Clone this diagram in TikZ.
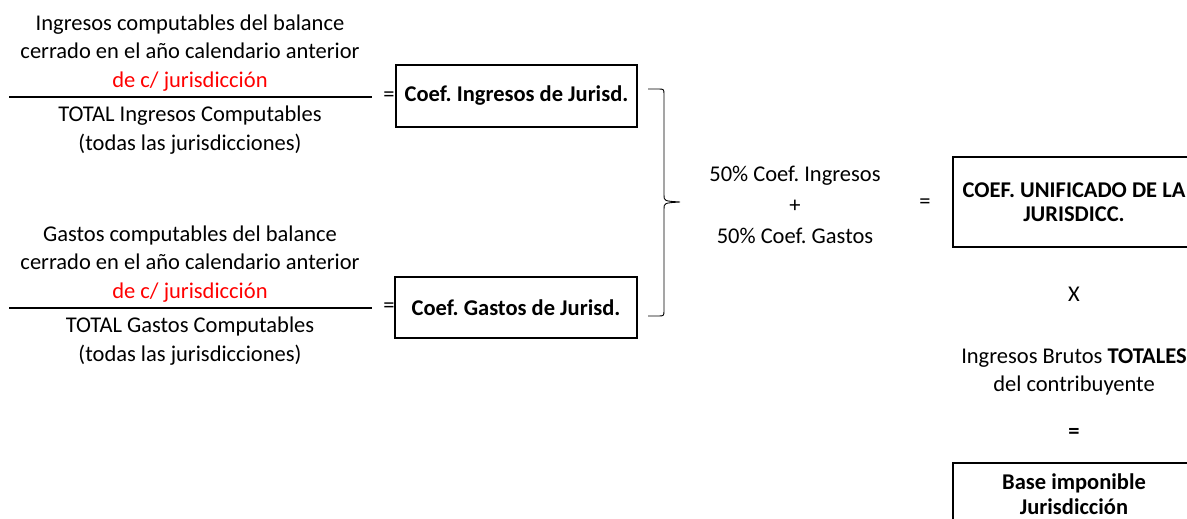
\documentclass[tikz,border=0pt]{standalone}
\usepackage{fontspec}
\setmainfont{Carlito}
\begin{document}
\frenchspacing
\begin{tikzpicture}[x=1pt,y=-1pt,
  txt/.style={inner sep=0pt,align=center,font=\fontsize{22.5}{28.5}\selectfont},
  coefbox/.style={draw,line width=1.5pt,inner sep=0pt,align=center,font=\fontsize{22.5}{24}\selectfont\bfseries},
  rule/.style={line width=1.3pt},
  brace/.style={line width=0.9pt}]
\useasboundingbox (0,0) rectangle (1187,519);
\clip (0,0) rectangle (1187,519);
% fraction 1
\node[txt] (n1) at (190,53) {Ingresos computables del balance\\cerrado en el año calendario anterior\\\textcolor{red}{de c/ jurisdicción}};
\node[txt] (d1) at (190,130) {TOTAL Ingresos Computables\\(todas las jurisdicciones)};
\coordinate (l1a) at (9,97);
\coordinate (l1b) at (372,97);
\draw[rule] (l1a) -- (l1b);
\node[txt] (e1) at (389,97) {=};
\node[coefbox,minimum width=241pt,minimum height=62pt] (b1) at (516.5,96) {Coef. Ingresos de Jurisd.};
% fraction 2
\node[txt] (n2) at (190,264) {Gastos computables del balance\\cerrado en el año calendario anterior\\\textcolor{red}{de c/ jurisdicción}};
\node[txt] (d2) at (190,341) {TOTAL Gastos Computables\\(todas las jurisdicciones)};
\coordinate (l2a) at (9,308);
\coordinate (l2b) at (372,308);
\draw[rule] (l2a) -- (l2b);
\node[txt] (e2) at (389,308) {=};
\node[coefbox,minimum width=242pt,minimum height=61pt] (b2) at (516,307.5) {Coef. Gastos de Jurisd.};
% brace
\coordinate (bt) at (648,89);
\coordinate (bm) at (680,202);
\coordinate (bb) at (648,316);
\draw[brace] (bt) -- (658,89) .. controls (664,89) .. (664,95) -- (664,195)
  .. controls (664,201) .. (bm) .. controls (664,203) .. (664,209) -- (664,310)
  .. controls (664,316) .. (658,316) -- (bb);
% middle
\node[txt,font=\fontsize{22.5}{31}\selectfont] (mid) at (795,205) {50\% Coef. Ingresos\\+\\50\% Coef. Gastos};
\node[txt] (e3) at (925,204) {=};
\node[coefbox,minimum width=242pt,minimum height=90pt] (b3) at (1074,202) {COEF. UNIFICADO DE LA\\JURISDICC.};
\node[txt] (x) at (1074,294) {X};
\node[txt,font=\fontsize{22.5}{28}\selectfont] (ib) at (1074,372) {Ingresos Brutos \textbf{TOTALES}\\del contribuyente};
\node[txt,font=\fontsize{22.5}{26}\selectfont\bfseries] (e4) at (1074,433) {=};
\draw[line width=1.5pt] (953,463) rectangle (1195,560);
\node[txt,font=\fontsize{22.5}{25}\selectfont\bfseries] (b4) at (1074,494) {Base imponible\\Jurisdicción};
\end{tikzpicture}
\end{document}
